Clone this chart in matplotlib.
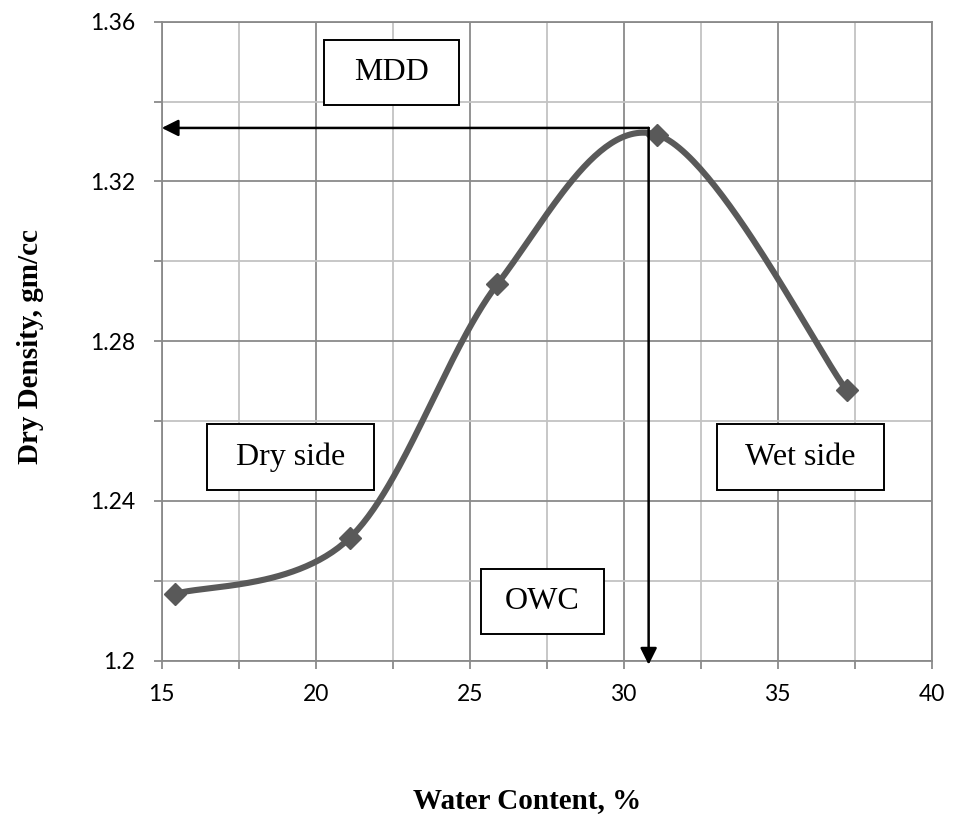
import matplotlib
matplotlib.use("Agg")
import matplotlib.pyplot as plt
import numpy as np
from matplotlib.patches import Rectangle
from matplotlib.ticker import MultipleLocator

# compaction test results
water_content = [15.43, 21.1, 25.9, 31.08, 37.24]
dry_density = [1.2167, 1.2307, 1.2943, 1.3317, 1.2677]

# optimum water content / maximum dry density
owc = 30.81
mdd = 1.3334

x_ticks = [15, 20, 25, 30, 35, 40]
y_ticks = [1.2, 1.24, 1.28, 1.32, 1.36]

GRID_DARK = "#8a8a8a"
GRID_LIGHT = "#c3c3c3"
LINE = "#595959"


def smooth_curve(x, y, xr, yr, n=60):
    # Catmull-Rom style Bezier smoothing (like spreadsheet "smoothed line"),
    # done in scaled coordinates so the shape follows the screen aspect
    u = (np.asarray(x) - xr[0]) / (xr[1] - xr[0]) * 770
    v = (np.asarray(y) - yr[0]) / (yr[1] - yr[0]) * 639
    p = np.column_stack([u, v])
    pts = np.vstack([p[0], p, p[-1]])
    out = []
    t = np.linspace(0, 1, n)[:, None]
    for i in range(1, len(pts) - 2):
        p0, p1, p2, p3 = pts[i - 1], pts[i], pts[i + 1], pts[i + 2]
        c1 = p1 + (p2 - p0) / 6
        c2 = p2 - (p3 - p1) / 6
        seg = ((1 - t) ** 3) * p1 + 3 * ((1 - t) ** 2) * t * c1 + 3 * (1 - t) * t ** 2 * c2 + t ** 3 * p2
        out.append(seg if i == 1 else seg[1:])
    out = np.vstack(out)
    xs = out[:, 0] / 770 * (xr[1] - xr[0]) + xr[0]
    ys = out[:, 1] / 639 * (yr[1] - yr[0]) + yr[0]
    return xs, ys


fig = plt.figure(figsize=(9.54, 8.16), dpi=100)
ax = fig.add_axes([0.1695, 0.1903, 0.8071, 0.7831])

xr = (15, 40)
yr = (1.2, 1.36)
ax.set_xlim(*xr)
ax.set_ylim(*yr)

ax.xaxis.set_minor_locator(MultipleLocator(2.5))
ax.yaxis.set_minor_locator(MultipleLocator(0.02))
ax.set_xticks(x_ticks)
ax.set_xticklabels([str(v) for v in x_ticks])
ax.set_yticks(y_ticks)
ax.set_yticklabels([f"{v:g}" for v in y_ticks])

ax.grid(which="major", color=GRID_DARK, linewidth=1.3)
ax.grid(which="minor", color=GRID_LIGHT, linewidth=1.3)
ax.set_axisbelow(True)
for s in ax.spines.values():
    s.set_color(GRID_DARK)
    s.set_linewidth(1.3)

ax.tick_params(which="both", direction="out", length=6, width=1.3, color=GRID_DARK)
ax.tick_params(axis="y", which="major", pad=13, labelsize=16.5)
ax.tick_params(axis="x", which="major", pad=11, labelsize=16.5)
for lbl in ax.get_xticklabels() + ax.get_yticklabels():
    lbl.set_fontfamily("Lato")

xs, ys = smooth_curve(water_content, dry_density, xr, yr)
ax.plot(xs, ys, color=LINE, linewidth=4.4, solid_capstyle="round", zorder=3)
ax.plot(water_content, dry_density, linestyle="none", marker="D", markersize=11,
        color=LINE, zorder=4)

# MDD / OWC guide arrows
arrow = dict(arrowstyle="-|>,head_length=1.0,head_width=0.5", color="black", lw=1.8,
             shrinkA=0, shrinkB=0)
ax.annotate("", xy=(xr[0], mdd), xytext=(owc, mdd), arrowprops=arrow, zorder=5,
            annotation_clip=False)
ax.annotate("", xy=(owc, yr[0] - 0.001), xytext=(owc, mdd), arrowprops=arrow, zorder=5,
            annotation_clip=False)

# label boxes (axes fraction: x0, y0, x1, y1)
boxes = [
    ("MDD", 0.2108, 0.8696, 0.3861, 0.9713),
    ("Dry side", 0.0588, 0.2671, 0.2757, 0.3704),
    ("Wet side", 0.7212, 0.2671, 0.9381, 0.3704),
    ("OWC", 0.4147, 0.0418, 0.5745, 0.1435),
]
for label, x0, y0, x1, y1 in boxes:
    ax.add_patch(Rectangle((x0, y0), x1 - x0, y1 - y0, transform=ax.transAxes,
                           facecolor="white", edgecolor="black", linewidth=1.4, zorder=6))
    ax.text((x0 + x1) / 2, (y0 + y1) / 2, label, transform=ax.transAxes,
            ha="center", va="center", fontsize=23, family="Liberation Serif", zorder=7)

fig.text(0.5524, 0.0184, "Water Content, %", ha="center", va="center",
         fontsize=21, fontweight="bold", family="Liberation Serif")
fig.text(0.0315, 0.5754, "Dry Density, gm/cc", ha="center", va="center", rotation=90,
         fontsize=21, fontweight="bold", family="Liberation Serif")

fig.savefig("out.png", dpi=100)
